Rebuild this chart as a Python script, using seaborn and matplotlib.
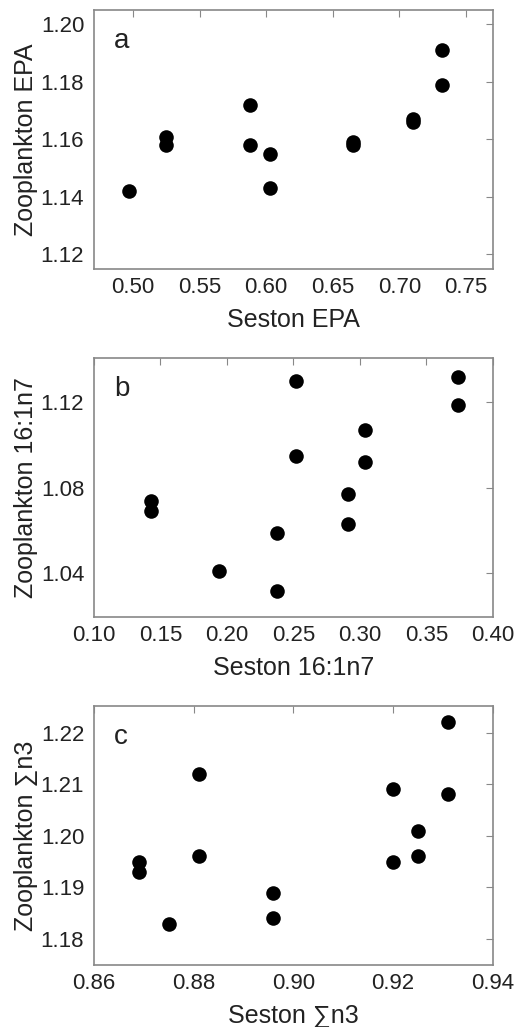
import pandas as pd
import seaborn as sns
import matplotlib.pyplot as plt

sns.set_style("white")
plt.rcParams['font.family'] = ['Liberation Sans', 'DejaVu Sans']

# Panel a - EPA
seston_epa = [0.497, 0.525, 0.525, 0.588, 0.588, 0.603, 0.603, 0.665, 0.665, 0.710, 0.710, 0.732, 0.732]
zoo_epa = [1.142, 1.161, 1.158, 1.172, 1.158, 1.155, 1.143, 1.159, 1.158, 1.167, 1.166, 1.191, 1.179]

# Panel b - 16:1n7
seston_161 = [0.143, 0.143, 0.194, 0.238, 0.238, 0.252, 0.252, 0.291, 0.291, 0.304, 0.304, 0.374, 0.374]
zoo_161 = [1.074, 1.069, 1.041, 1.059, 1.032, 1.130, 1.095, 1.077, 1.063, 1.107, 1.092, 1.132, 1.119]

# Panel c - sum n3
seston_n3 = [0.869, 0.869, 0.875, 0.881, 0.881, 0.896, 0.896, 0.920, 0.920, 0.925, 0.925, 0.931, 0.931]
zoo_n3 = [1.195, 1.193, 1.183, 1.212, 1.196, 1.189, 1.184, 1.209, 1.195, 1.201, 1.196, 1.222, 1.208]

paineis = [
    ('a', seston_epa, zoo_epa, 'Seston EPA', 'Zooplankton EPA',
     (0.4707, 0.770), (1.1149, 1.2049),
     [0.50, 0.55, 0.60, 0.65, 0.70, 0.75], [1.12, 1.14, 1.16, 1.18, 1.20]),
    ('b', seston_161, zoo_161, 'Seston 16:1n7', 'Zooplankton 16:1n7',
     (0.10, 0.40), (1.0196, 1.1407),
     [0.10, 0.15, 0.20, 0.25, 0.30, 0.35, 0.40], [1.04, 1.08, 1.12]),
    ('c', seston_n3, zoo_n3, 'Seston \u2211n3', 'Zooplankton \u2211n3',
     (0.86, 0.94), (1.175, 1.2251),
     [0.86, 0.88, 0.90, 0.92, 0.94], [1.18, 1.19, 1.20, 1.21, 1.22]),
]

fig = plt.figure(figsize=(5.16, 10.27), dpi=100)
posicoes = [0.738, 0.3992, 0.0604]

for (letra, x, y, xlab, ylab, xlim, ylim, xt, yt), y0 in zip(paineis, posicoes):
    ax = fig.add_axes([0.182, y0, 0.773, 0.252])
    df = pd.DataFrame({'x': x, 'y': y})
    sns.scatterplot(data=df, x='x', y='y', ax=ax, color='black', s=110,
                    edgecolor='black', linewidth=0)
    ax.set_xlim(*xlim)
    ax.set_ylim(*ylim)
    ax.set_xticks(xt)
    ax.set_xticklabels(['{:.2f}'.format(v) for v in xt])
    ax.set_yticks(yt)
    ax.set_yticklabels(['{:.2f}'.format(v) for v in yt])
    ax.tick_params(direction='in', length=5, width=0.8, color='#888888',
                   top=True, right=True, labelsize=16, labelcolor='#222222')
    ax.tick_params(axis='y', pad=7)
    ax.tick_params(axis='x', pad=6)
    for sp in ax.spines.values():
        sp.set_color('#888888')
        sp.set_linewidth(1.2)
    ax.set_xlabel(xlab, fontsize=18, color='#222222', labelpad=7)
    ax.set_ylabel(ylab, fontsize=18, color='#222222', labelpad=2)
    ax.text(0.05, 0.93, letra, transform=ax.transAxes, fontsize=20,
            va='top', ha='left', color='#222222')

plt.savefig('out.png', dpi=100)
